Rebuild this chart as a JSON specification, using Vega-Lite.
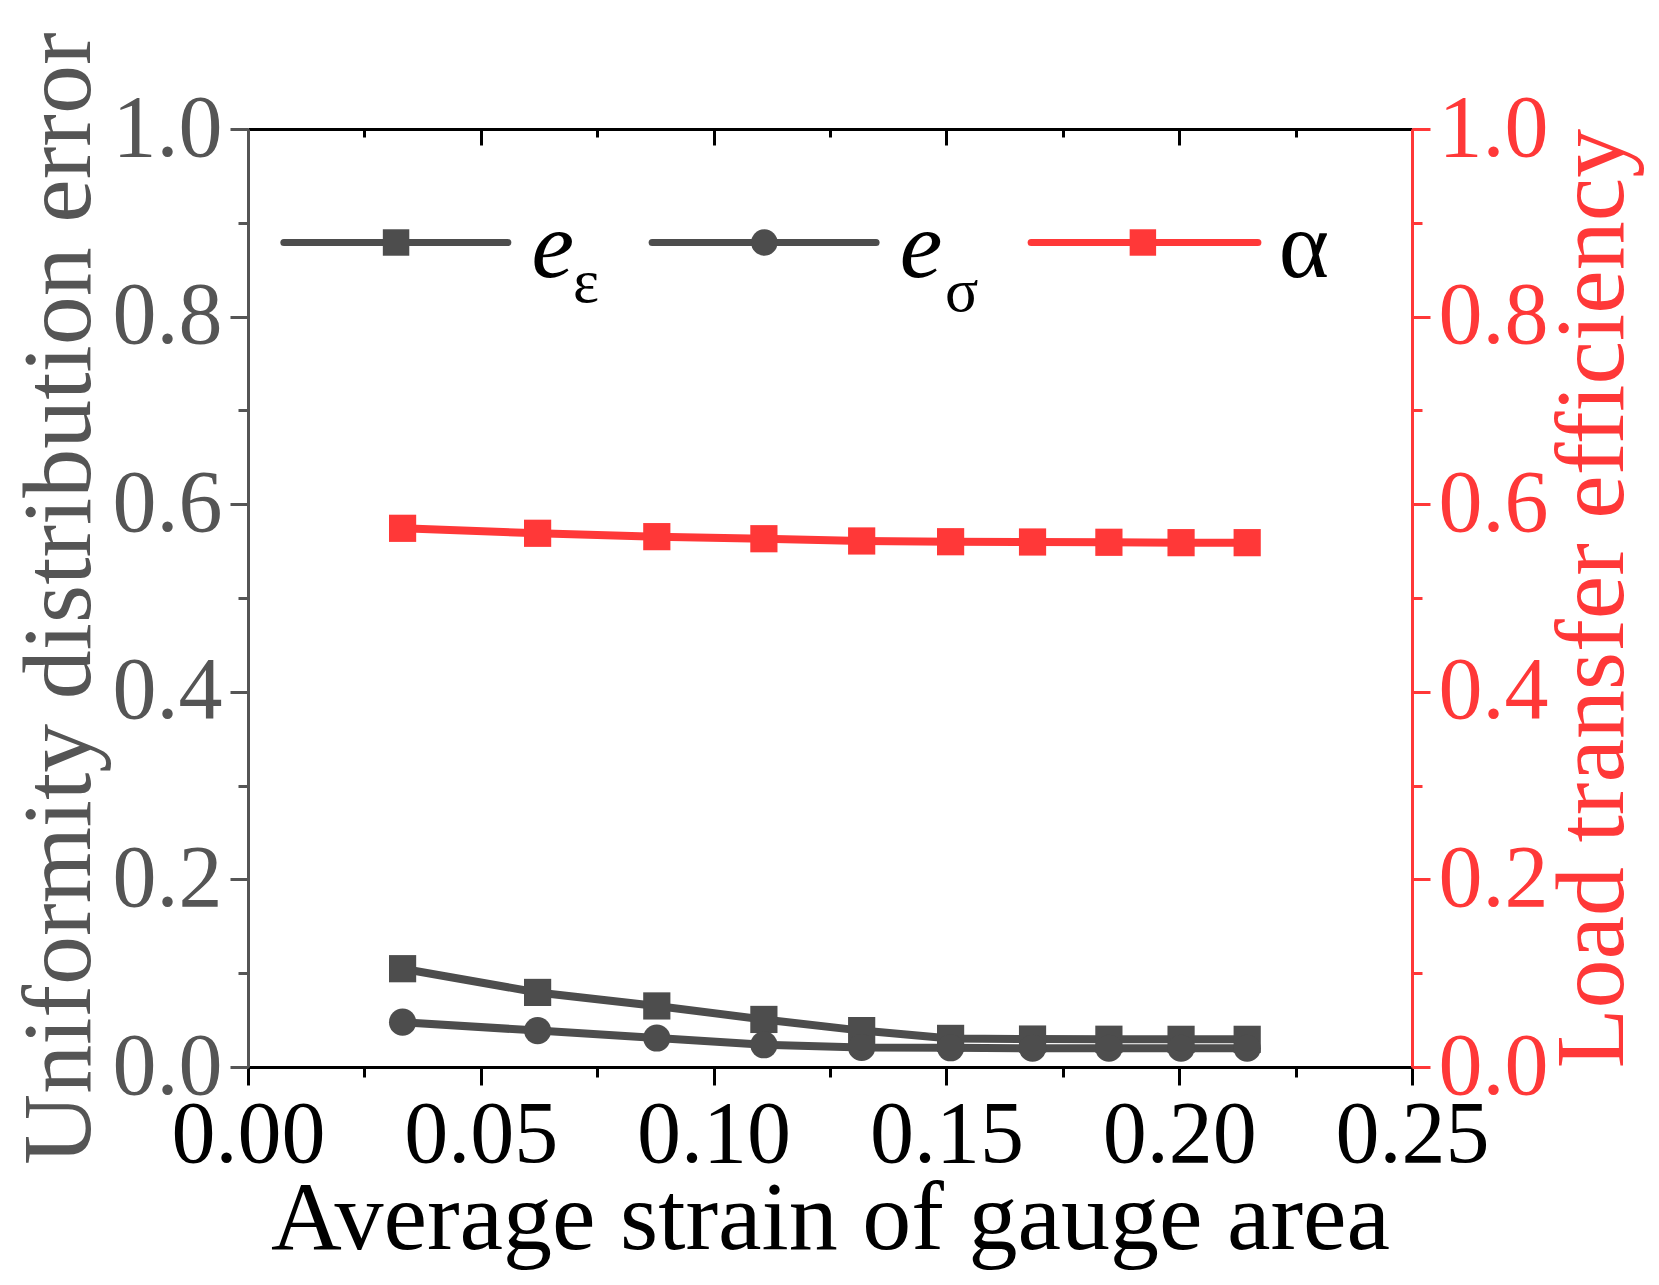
{
  "$schema": "https://vega.github.io/schema/vega-lite/v6.json",
  "background": "white",
  "autosize": {"type": "none"},
  "padding": {"left": 248, "top": 129, "right": 247, "bottom": 218},
  "width": 1164,
  "height": 938,
  "config": {
    "view": {"stroke": null},
    "font": "Liberation Serif",
    "axis": {
      "labelFont": "Liberation Serif",
      "titleFont": "Liberation Serif",
      "labelFontSize": 88,
      "titleFontSize": 98,
      "titleFontWeight": "normal",
      "grid": false,
      "domainWidth": 3,
      "tickWidth": 3,
      "labelFlush": false,
      "labelOverlap": false
    }
  },
  "datasets": {
    "series": [
      {"strain": 0.0332, "series": "e_eps", "value": 0.1048},
      {"strain": 0.0622, "series": "e_eps", "value": 0.0795},
      {"strain": 0.0878, "series": "e_eps", "value": 0.0651},
      {"strain": 0.1108, "series": "e_eps", "value": 0.0507},
      {"strain": 0.1318, "series": "e_eps", "value": 0.0388},
      {"strain": 0.1509, "series": "e_eps", "value": 0.0305},
      {"strain": 0.1685, "series": "e_eps", "value": 0.0298},
      {"strain": 0.1849, "series": "e_eps", "value": 0.0296},
      {"strain": 0.2004, "series": "e_eps", "value": 0.0295},
      {"strain": 0.2146, "series": "e_eps", "value": 0.0295},
      {"strain": 0.0332, "series": "e_sig", "value": 0.0478},
      {"strain": 0.0622, "series": "e_sig", "value": 0.0388},
      {"strain": 0.0878, "series": "e_sig", "value": 0.0309},
      {"strain": 0.1108, "series": "e_sig", "value": 0.0237},
      {"strain": 0.1318, "series": "e_sig", "value": 0.0208},
      {"strain": 0.1509, "series": "e_sig", "value": 0.0205},
      {"strain": 0.1685, "series": "e_sig", "value": 0.0200},
      {"strain": 0.1849, "series": "e_sig", "value": 0.0200},
      {"strain": 0.2004, "series": "e_sig", "value": 0.0200},
      {"strain": 0.2146, "series": "e_sig", "value": 0.0200},
      {"strain": 0.0332, "series": "alpha", "value": 0.5743},
      {"strain": 0.0622, "series": "alpha", "value": 0.5690},
      {"strain": 0.0878, "series": "alpha", "value": 0.5654},
      {"strain": 0.1108, "series": "alpha", "value": 0.5632},
      {"strain": 0.1318, "series": "alpha", "value": 0.5608},
      {"strain": 0.1509, "series": "alpha", "value": 0.5600},
      {"strain": 0.1685, "series": "alpha", "value": 0.5597},
      {"strain": 0.1849, "series": "alpha", "value": 0.5594},
      {"strain": 0.2004, "series": "alpha", "value": 0.5590},
      {"strain": 0.2146, "series": "alpha", "value": 0.5590}
    ],
    "legend": [
      {"series": "e_eps", "x1": 0.0077, "x2": 0.0558, "xs": 0.0318, "y": 0.879},
      {"series": "e_sig", "x1": 0.0868, "x2": 0.1349, "xs": 0.1109, "y": 0.879},
      {"series": "alpha", "x1": 0.1682, "x2": 0.2169, "xs": 0.1922, "y": 0.879}
    ],
    "legendText": [
      {"tx": 0.0609, "ty": 0.842, "label": "e"},
      {"tx": 0.1400, "ty": 0.842, "label": "e"}
    ],
    "legendSub": [
      {"tx": 0.0698, "ty": 0.816, "label": "ε"},
      {"tx": 0.1497, "ty": 0.806, "label": "σ"}
    ],
    "legendAlpha": [
      {"tx": 0.2214, "ty": 0.842, "label": "α"}
    ]
  },
  "resolve": {"axis": {"x": "independent", "y": "independent"}},
  "layer": [
    {
      "data": {"name": "series"},
      "mark": {"type": "line", "strokeWidth": 8},
      "encoding": {
        "x": {
          "field": "strain", "type": "quantitative",
          "scale": {"domain": [0, 0.25], "nice": false, "zero": false},
          "title": "Average strain of gauge area",
          "axis": {
            "orient": "bottom", "values": [0, 0.05, 0.1, 0.15, 0.2, 0.25], "format": ".2f",
            "tickSize": 18, "labelPadding": 6, "titlePadding": -8,
            "domainColor": "#000000", "tickColor": "#000000", "labelColor": "#000000", "titleColor": "#000000"
          }
        },
        "y": {
          "field": "value", "type": "quantitative",
          "scale": {"domain": [0, 1], "nice": false, "zero": false},
          "title": "Uniformity distribution error",
          "axis": {
            "orient": "left", "values": [0, 0.2, 0.4, 0.6, 0.8, 1.0], "format": ".1f",
            "tickSize": 18, "labelPadding": 8, "titlePadding": 2,
            "domainColor": "#555555", "tickColor": "#555555", "labelColor": "#555555", "titleColor": "#555555"
          }
        },
        "color": {
          "field": "series", "type": "nominal",
          "scale": {"domain": ["e_eps", "e_sig", "alpha"], "range": ["#4d4d4d", "#4d4d4d", "#ff3838"]},
          "legend": null
        },
        "detail": {"field": "series"}
      }
    },
    {
      "data": {"name": "series"},
      "mark": {"type": "point", "filled": true, "opacity": 1, "size": 740},
      "encoding": {
        "x": {
          "field": "strain", "type": "quantitative",
          "axis": {
            "orient": "bottom", "values": [0.025, 0.075, 0.125, 0.175, 0.225], "labels": false,
            "domain": false, "tickSize": 10, "tickColor": "#000000", "title": null
          }
        },
        "y": {
          "field": "value", "type": "quantitative",
          "axis": {
            "orient": "left", "values": [0.1, 0.3, 0.5, 0.7, 0.9], "labels": false,
            "domain": false, "tickSize": 10, "tickColor": "#555555", "title": null
          }
        },
        "color": {"field": "series", "type": "nominal", "legend": null},
        "shape": {
          "field": "series", "type": "nominal",
          "scale": {"domain": ["e_eps", "e_sig", "alpha"], "range": ["square", "circle", "square"]},
          "legend": null
        }
      }
    },
    {
      "data": {"name": "legend"},
      "mark": {"type": "rule", "strokeWidth": 7, "strokeCap": "round"},
      "encoding": {
        "x": {
          "field": "x1", "type": "quantitative",
          "axis": {
            "orient": "top", "values": [0, 0.05, 0.1, 0.15, 0.2, 0.25], "labels": false,
            "tickSize": -16, "domainColor": "#000000", "tickColor": "#000000", "title": null
          }
        },
        "x2": {"field": "x2"},
        "y": {
          "field": "y", "type": "quantitative",
          "title": "Load transfer efficiency",
          "axis": {
            "orient": "right", "values": [0, 0.2, 0.4, 0.6, 0.8, 1.0], "format": ".1f",
            "tickSize": 18, "labelPadding": 8, "titlePadding": -3,
            "titleAngle": 270, "titleBaseline": "top",
            "domainColor": "#ff3838", "tickColor": "#ff3838", "labelColor": "#ff3838", "titleColor": "#ff3838"
          }
        },
        "color": {"field": "series", "type": "nominal", "legend": null}
      }
    },
    {
      "data": {"name": "legend"},
      "mark": {"type": "point", "filled": true, "opacity": 1, "size": 700},
      "encoding": {
        "x": {
          "field": "xs", "type": "quantitative",
          "axis": {
            "orient": "top", "values": [0.025, 0.075, 0.125, 0.175, 0.225], "labels": false,
            "domain": false, "tickSize": -8, "tickColor": "#000000", "title": null
          }
        },
        "y": {
          "field": "y", "type": "quantitative",
          "axis": {
            "orient": "right", "values": [0.1, 0.3, 0.5, 0.7, 0.9], "labels": false,
            "domain": false, "tickSize": 10, "tickColor": "#ff3838", "title": null
          }
        },
        "color": {"field": "series", "type": "nominal", "legend": null},
        "shape": {"field": "series", "type": "nominal", "legend": null}
      }
    },
    {
      "data": {"name": "legendText"},
      "mark": {"type": "text", "align": "left", "baseline": "alphabetic", "fontSize": 96, "fontStyle": "italic", "font": "Liberation Serif", "color": "#000000"},
      "encoding": {
        "x": {"field": "tx", "type": "quantitative", "axis": null},
        "y": {"field": "ty", "type": "quantitative", "axis": null},
        "text": {"field": "label"}
      }
    },
    {
      "data": {"name": "legendSub"},
      "mark": {"type": "text", "align": "left", "baseline": "alphabetic", "fontSize": 62, "font": "Liberation Serif", "color": "#000000"},
      "encoding": {
        "x": {"field": "tx", "type": "quantitative", "axis": null},
        "y": {"field": "ty", "type": "quantitative", "axis": null},
        "text": {"field": "label"}
      }
    },
    {
      "data": {"name": "legendAlpha"},
      "mark": {"type": "text", "align": "left", "baseline": "alphabetic", "fontSize": 96, "font": "Liberation Serif", "color": "#000000"},
      "encoding": {
        "x": {"field": "tx", "type": "quantitative", "axis": null},
        "y": {"field": "ty", "type": "quantitative", "axis": null},
        "text": {"field": "label"}
      }
    }
  ]
}
